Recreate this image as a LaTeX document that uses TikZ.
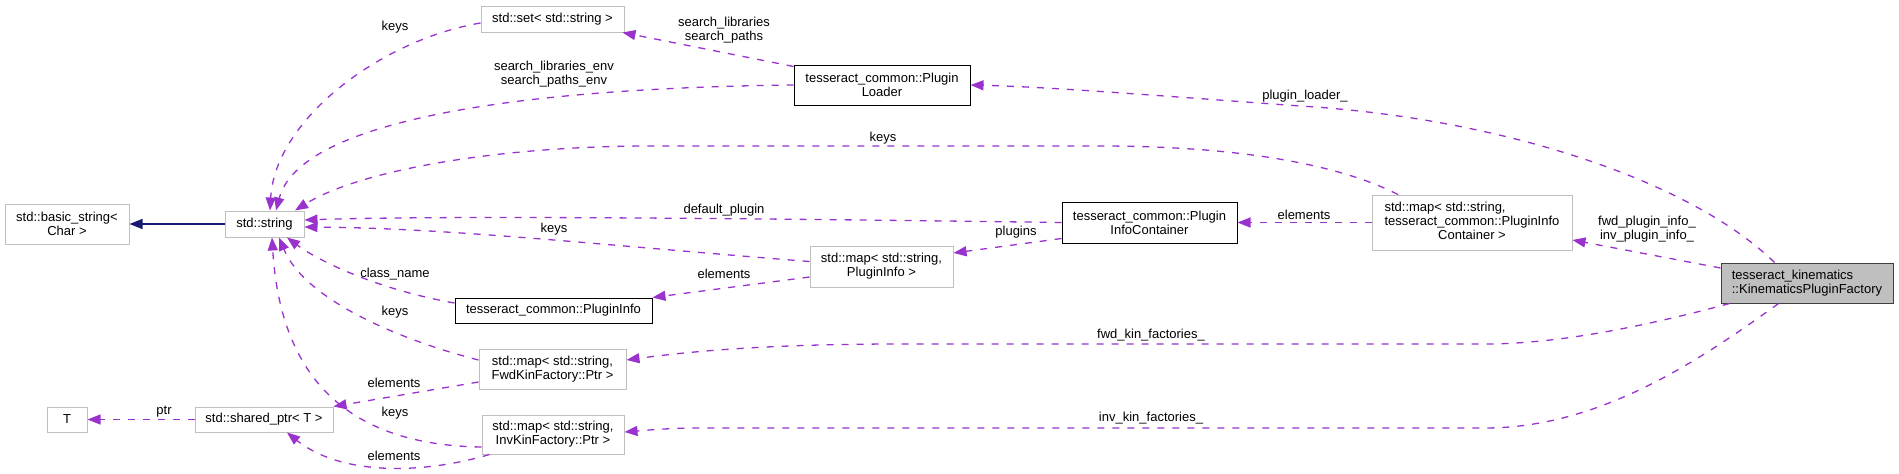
\documentclass[tikz,border=0pt]{standalone}
\usepackage{fontspec}
\setmainfont{Liberation Sans}
\usetikzlibrary{arrows.meta}
\definecolor{edgec}{HTML}{9A32CD}
\definecolor{greyb}{HTML}{BFBFBF}
\definecolor{inhc}{HTML}{191970}
\definecolor{kinb}{HTML}{404040}
\begin{document}
\begin{tikzpicture}[x=1pt,y=-1pt,
  txt/.style={font=\fontsize{13}{14}\selectfont},
  gbox/.style={txt,draw=greyb,line width=1pt,inner sep=0pt,align=center,fill=white},
  bbox/.style={txt,draw=black,line width=1pt,inner sep=0pt,align=center,fill=white},
  kbox/.style={txt,draw=kinb,fill=greyb,line width=1pt,inner sep=0pt,align=left},
  lbl/.style={txt,inner sep=0pt,align=center},
  uses/.style={draw=edgec,line width=1.3pt,dash pattern=on 7pt off 8pt,-{Triangle[length=13pt,width=10pt,fill=edgec]}},
  inh/.style={draw=inhc,line width=1.3pt,-{Triangle[length=13pt,width=10pt,fill=inhc]}}
]
\useasboundingbox (0,0) rectangle (1899,474);

% nodes
\node[gbox,minimum width=124pt,minimum height=40pt] (basic) at (67,224) {std::basic\_string<\\Char >};
\node[gbox,minimum width=79pt,minimum height=26pt] (string) at (264.5,224) {std::string};
\node[gbox,minimum width=143pt,minimum height=26pt] (set) at (552.5,19) {std::set< std::string >};
\node[bbox,minimum width=176pt,minimum height=40pt] (loader) at (882,85) {tesseract\_common::Plugin\\Loader};
\node[bbox,minimum width=197pt,minimum height=25pt] (pinfo) at (553.5,310.5) {tesseract\_common::PluginInfo};
\node[gbox,minimum width=147pt,minimum height=40pt] (fwdmap) at (552.5,369) {std::map< std::string,\\FwdKinFactory::Ptr >};
\node[gbox,minimum width=40pt,minimum height=25pt] (T) at (67,419.5) {T};
\node[gbox,minimum width=138pt,minimum height=25pt] (sptr) at (264,419.5) {std::shared\_ptr< T >};
\node[gbox,minimum width=142pt,minimum height=39pt] (invmap) at (553,434.5) {std::map< std::string,\\InvKinFactory::Ptr >};
\node[bbox,minimum width=175pt,minimum height=41pt] (pic) at (1149.5,222.5) {tesseract\_common::Plugin\\InfoContainer};
\node[gbox,minimum width=143pt,minimum height=41pt] (pimap) at (881.5,266.5) {std::map< std::string,\\PluginInfo >};
\node[gbox,minimum width=200pt,minimum height=55pt] (picmap) at (1472,222.5) {\begin{tabular}{@{}l@{}}std::map< std::string,\\ tesseract\_common::PluginInfo\\ \multicolumn{1}{@{}c@{}}{Container >}\end{tabular}};
\node[kbox,minimum width=172pt,minimum height=40pt] (kin) at (1807,283) {tesseract\_kinematics\\::KinematicsPluginFactory};

% labels
\node[lbl] (l1) at (395,27) {keys};
\node[lbl] (l2) at (554,74) {search\_libraries\_env\\search\_paths\_env};
\node[lbl] (l3) at (724,30) {search\_libraries\\search\_paths};
\node[lbl] (l4) at (883,138) {keys};
\node[lbl] (l5) at (1305,96) {plugin\_loader\_};
\node[lbl] (l6) at (724,210) {default\_plugin};
\node[lbl] (l7) at (1016,232) {plugins};
\node[lbl] (l8) at (1304,215) {elements};
\node[lbl] (l9) at (1647,229) {fwd\_plugin\_info\_\\inv\_plugin\_info\_};
\node[lbl] (l10) at (554,229) {keys};
\node[lbl] (l11) at (724,274) {elements};
\node[lbl] (l12) at (395,274) {class\_name};
\node[lbl] (l13) at (395,312) {keys};
\node[lbl] (l14) at (1151,335) {fwd\_kin\_factories\_};
\node[lbl] (l15) at (394,383) {elements};
\node[lbl] (l16) at (164,412) {ptr};
\node[lbl] (l17) at (395,413) {keys};
\node[lbl] (l18) at (1151,418) {inv\_kin\_factories\_};
\node[lbl] (l19) at (394,456) {elements};

% edges
\draw[inh] (string.west) -- (basic.east);
\draw[uses] ([yshift=-4pt]set.west) .. controls (380,40) and (275,120) .. ([xshift=5.5pt]string.north);
\draw[uses] ([yshift=-2pt]loader.north west) -- ([xshift=-2pt]set.south east);
\draw[uses] (loader.west) .. controls (520,88) and (300,120) .. ([xshift=11.5pt]string.north);
\draw[uses] ([xshift=-74pt]picmap.north) .. controls (1330,160) and (1220,146) .. (1100,146) -- (650,146) .. controls (500,146) and (360,170) .. ([xshift=30.5pt]string.north);
\draw[uses] ([xshift=54pt]kin.north west) .. controls (1690,180) and (1500,118) .. (1300,106) .. controls (1150,95) and (1050,87) .. (loader.east);
\draw[uses] (pic.west) .. controls (800,219) and (450,215) .. ([yshift=4pt]string.east);
\draw[uses] ([yshift=5pt]pimap.west) .. controls (600,245) and (450,228) .. ([yshift=-3pt]string.east);
\draw[uses] ([yshift=5pt]pic.south west) -- ([yshift=13.5pt]pimap.east);
\draw[uses] ([yshift=-10.5pt]pimap.west) -- (pinfo.north east);
\draw[uses] ([yshift=7.5pt]pinfo.west) .. controls (380,290) and (320,262) .. ([xshift=22.5pt]string.south);
\draw[uses] ([yshift=9pt]fwdmap.west) .. controls (400,340) and (305,300) .. ([xshift=14.5pt]string.south);
\draw[uses] ([yshift=-12.5pt]invmap.west) .. controls (340,445) and (280,370) .. ([xshift=7.5pt]string.south);
\draw[uses] ([yshift=-13pt]fwdmap.west) -- (sptr.north east);
\draw[uses] ([xshift=8pt]invmap.south west) .. controls (420,475) and (340,475) .. ([xshift=23pt]sptr.south);
\draw[uses] (sptr.west) -- (T.east);
\draw[uses] (picmap.west) -- (pic.east);
\draw[uses] ([yshift=15pt]kin.west) -- ([yshift=-17.5pt]picmap.east);
\draw[uses] ([xshift=9pt]kin.south west) .. controls (1650,325) and (1560,344) .. (1485,344) -- (900,344) .. controls (780,344) and (700,350) .. ([yshift=9pt]fwdmap.east);
\draw[uses] ([xshift=58pt]kin.south west) .. controls (1700,360) and (1600,428) .. (1485,428) -- (700,428) .. controls (670,428) and (650,430) .. ([yshift=2.5pt]invmap.east);
\end{tikzpicture}
\end{document}
